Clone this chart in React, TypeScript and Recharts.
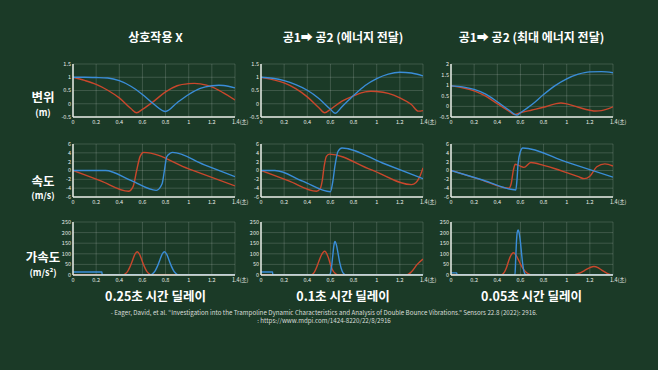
import React from "react";
import { CartesianGrid, Line, LineChart, XAxis, YAxis } from "recharts";

// axes
const X_TICKS = [0, 0.2, 0.4, 0.6, 0.8, 1, 1.2, 1.4];
const DISP_TICKS = [-0.5, 0, 0.5, 1, 1.5];
const DISP_TICKS_MAX = [-0.5, 0, 0.5, 1, 1.5, 2];
const VEL_TICKS = [-6, -4, -2, 0, 2, 4, 6];
const ACC_TICKS = [0, 50, 100, 150, 200, 250];

const COL_TITLES = ["상호작용 X", "공1➡ 공2 (에너지 전달)", "공1➡ 공2 (최대 에너지 전달)"];
const COL_FOOTERS = ["0.25초 시간 딜레이", "0.1초 시간 딜레이", "0.05초 시간 딜레이"];
const ROW_LABELS = ["변위", "속도", "가속도"];
const ROW_UNITS = ["(m)", "(m/s)", "(m/s²)"];
const CITE_1 =
  "- Eager, David, et al. \u201cInvestigation into the Trampoline Dynamic Characteristics and Analysis of Double Bounce Vibrations.\u201d Sensors 22.8 (2022): 2916.";
const CITE_2 = ": https://www.mdpi.com/1424-8220/22/8/2916";

// displacement (m)
const d1BlueT = [0, 0.1, 0.2, 0.3, 0.4, 0.5, 0.6, 0.7, 0.8, 0.9, 1.0, 1.1, 1.2, 1.26, 1.3, 1.4];
const d1BlueV = [1, 1, 0.99, 0.97, 0.87, 0.66, 0.35, -0.02, -0.29, 0.04, 0.35, 0.58, 0.68, 0.7, 0.69, 0.6];
const d1RedT = [0, 0.1, 0.2, 0.3, 0.4, 0.5, 0.55, 0.6, 0.7, 0.8, 0.9, 1.0, 1.05, 1.1, 1.2, 1.3, 1.4];
const d1RedV = [1, 0.88, 0.73, 0.51, 0.22, -0.18, -0.34, -0.21, 0.1, 0.45, 0.68, 0.76, 0.77, 0.75, 0.64, 0.41, 0.14];

const d2BlueT = [0, 0.1, 0.2, 0.3, 0.4, 0.5, 0.6, 0.64, 0.7, 0.8, 0.9, 1.0, 1.1, 1.2, 1.3, 1.4];
const d2BlueV = [1, 0.96, 0.87, 0.72, 0.51, 0.2, -0.21, -0.36, -0.11, 0.31, 0.69, 0.95, 1.12, 1.19, 1.16, 1.05];
const d2RedT = [0, 0.1, 0.2, 0.3, 0.4, 0.5, 0.55, 0.6, 0.7, 0.8, 0.9, 0.95, 1.0, 1.1, 1.2, 1.3, 1.36, 1.4];
const d2RedV = [1, 0.91, 0.79, 0.57, 0.26, -0.15, -0.34, -0.21, 0.1, 0.3, 0.45, 0.47, 0.46, 0.39, 0.22, -0.03, -0.28, -0.26];

const d3BlueT = [0, 0.1, 0.2, 0.3, 0.4, 0.5, 0.57, 0.6, 0.7, 0.8, 0.9, 1.0, 1.1, 1.2, 1.3, 1.4];
const d3BlueV = [0.97, 0.92, 0.8, 0.58, 0.22, -0.17, -0.41, -0.3, 0.09, 0.56, 0.98, 1.3, 1.52, 1.63, 1.64, 1.59];
const d3RedT = [0, 0.1, 0.2, 0.3, 0.4, 0.5, 0.55, 0.6, 0.7, 0.8, 0.9, 0.95, 1.0, 1.1, 1.2, 1.25, 1.3, 1.4];
const d3RedV = [0.97, 0.88, 0.73, 0.48, 0.13, -0.22, -0.38, -0.3, -0.17, -0.04, 0.12, 0.16, 0.12, -0.04, -0.18, -0.22, -0.2, -0.02];

// velocity (m/s)
const v1BlueT = [0, 0.28, 0.5, 0.72, 0.77, 0.79, 0.81, 0.84, 0.86, 1.13, 1.4];
const v1BlueV = [0, 0, -2.25, -4.5, -3, 0, 3.1, 3.9, 4.1, 1.35, -1.4];
const v1RedT = [0, 0.24, 0.48, 0.52, 0.55, 0.58, 0.61, 1.0, 1.4];
const v1RedV = [0, -2.35, -4.7, -3.6, 0, 3.2, 4.1, 0.35, -3.5];

const v2BlueT = [0, 0.12, 0.36, 0.6, 0.62, 0.64, 0.665, 0.7, 1.05, 1.4];
const v2BlueV = [0, 0, -2.4, -4.8, -2.6, 1.2, 4.3, 5.1, 1.7, -1.85];
const v2RedT = [0, 0.24, 0.48, 0.51, 0.53, 0.545, 0.565, 0.59, 0.95, 1.3, 1.34, 1.37, 1.4];
const v2RedV = [0, -2.35, -4.7, -4.2, -2.2, 0.8, 3.2, 3.7, 0.2, -3.2, -2.7, -1.5, 0.6];

const v3BlueT = [0, 0.28, 0.56, 0.57, 0.58, 0.6, 0.62, 1.0, 1.4];
const v3BlueV = [0, -2.2, -4.4, -2.2, 1.6, 4.3, 5.1, 1.9, -1.5];
const v3RedT = [0, 0.25, 0.5, 0.52, 0.54, 0.555, 0.58, 0.63, 0.69, 0.8, 0.9, 1.0, 1.1, 1.15, 1.2, 1.26, 1.33, 1.4];
const v3RedV = [0, -2, -4.0, -3.0, 0.2, 1.4, 1.2, 0.7, 1.8, 1.15, 0.4, -0.5, -1.4, -1.85, -1.3, 0.85, 1.5, 1.0];

// acceleration (m/s²)
const a1BlueT = [0, 0.25, 0.252, 0.67, 0.69, 0.71, 0.73, 0.75, 0.77, 0.79, 0.81, 0.83, 0.85, 0.87, 0.89, 0.91, 1.4];
const a1BlueV = [14, 14, 0, 0, 7, 20, 42, 70, 98, 110, 98, 70, 42, 20, 7, 0, 0];
const a1RedT = [0, 0.43, 0.455, 0.475, 0.495, 0.515, 0.535, 0.555, 0.575, 0.595, 0.615, 0.635, 0.655, 0.68, 1.4];
const a1RedV = [0, 0, 7, 20, 42, 70, 98, 110, 98, 70, 42, 20, 7, 0, 0];

const a2BlueT = [0, 0.1, 0.102, 0.59, 0.6, 0.61, 0.62, 0.63, 0.64, 0.65, 0.66, 0.68, 0.7, 0.72, 0.73, 1.4];
const a2BlueV = [14, 14, 0, 0, 8, 40, 90, 140, 158, 145, 120, 60, 20, 3, 0, 0];
const a2RedT = [0, 0.43, 0.46, 0.48, 0.5, 0.52, 0.55, 0.58, 0.6, 0.62, 0.64, 0.67, 1.26, 1.3, 1.35, 1.4];
const a2RedV = [0, 0, 12, 35, 65, 92, 112, 85, 50, 22, 8, 0, 0, 15, 50, 75];

const a3BlueT = [0, 0.05, 0.052, 0.553, 0.558, 0.565, 0.572, 0.58, 0.59, 0.6, 0.61, 0.62, 0.63, 0.64, 0.65, 1.4];
const a3BlueV = [10, 10, 0, 0, 60, 150, 200, 212, 195, 155, 100, 50, 18, 4, 0, 0];
const a3RedT = [0, 0.43, 0.46, 0.48, 0.5, 0.52, 0.54, 0.56, 0.58, 0.6, 0.62, 0.64, 0.67, 0.7, 1.05, 1.1, 1.15, 1.2, 1.235, 1.27, 1.3, 1.35, 1.38, 1.4];
const a3RedV = [0, 0, 12, 35, 70, 95, 105, 95, 75, 52, 32, 18, 5, 0, 0, 7, 20, 35, 40, 35, 24, 8, 2, 0];

const BG = "#1b3a27";
const BLUE = "#3a8dd8";
const RED = "#c9472c";
const TICK = "#e6ebe6";
const FONT = "'Noto Sans CJK KR', 'Noto Sans', sans-serif";

const zip = (t: number[], v: number[]) => t.map((x, i) => ({ t: x, v: v[i] }));

const COL_LEFT = [53, 241, 431];
const ROW_TOP = [59, 139, 217];
const COL_CENTER = [155.5, 343, 531.5];

function XTick(props: any) {
  const { x, y, payload } = props;
  const last = payload.value === 1.4;
  return (
    <text
      x={last ? x - 3 : x}
      y={y}
      dy="0.71em"
      textAnchor={last ? "start" : "middle"}
      fontSize={5.5}
      fill={TICK}
    >
      {last ? "1.4(초)" : String(payload.value)}
    </text>
  );
}

function Panel({
  left,
  top,
  domain,
  ticks,
  blue,
  red,
}: {
  left: number;
  top: number;
  domain: [number, number];
  ticks: number[];
  blue: { t: number; v: number }[];
  red: { t: number; v: number }[];
}) {
  return (
    <div style={{ position: "absolute", left, top }}>
      <LineChart width={207} height={73} margin={{ top: 5, right: 25, bottom: 0, left: 0 }}>
        <CartesianGrid stroke="rgba(255,255,255,0.2)" strokeWidth={0.8} />
        <XAxis
          dataKey="t"
          type="number"
          domain={[0, 1.4]}
          ticks={X_TICKS}
          interval={0}
          height={15}
          tickLine={false}
          tickSize={2}
          tickMargin={1}
          axisLine={{ stroke: TICK, strokeWidth: 1.5 }}
          tick={<XTick />}
          allowDataOverflow
        />
        <YAxis
          type="number"
          domain={domain}
          ticks={ticks}
          interval={0}
          width={20}
          tickLine={false}
          tickSize={2}
          tickMargin={0}
          axisLine={{ stroke: TICK, strokeWidth: 1.5 }}
          tick={{ fontSize: 5.5, fill: TICK }}
          allowDataOverflow
        />
        <Line data={red} dataKey="v" type="monotone" stroke={RED} strokeWidth={1.4} dot={false} isAnimationActive={false} />
        <Line data={blue} dataKey="v" type="monotone" stroke={BLUE} strokeWidth={1.4} dot={false} isAnimationActive={false} />
      </LineChart>
    </div>
  );
}

export default function App() {
  const rows = [
    [
      { ticks: DISP_TICKS, domain: [-0.5, 1.5] as [number, number], blue: zip(d1BlueT, d1BlueV), red: zip(d1RedT, d1RedV) },
      { ticks: DISP_TICKS, domain: [-0.5, 1.5] as [number, number], blue: zip(d2BlueT, d2BlueV), red: zip(d2RedT, d2RedV) },
      { ticks: DISP_TICKS_MAX, domain: [-0.5, 2] as [number, number], blue: zip(d3BlueT, d3BlueV), red: zip(d3RedT, d3RedV) },
    ],
    [
      { ticks: VEL_TICKS, domain: [-6, 6] as [number, number], blue: zip(v1BlueT, v1BlueV), red: zip(v1RedT, v1RedV) },
      { ticks: VEL_TICKS, domain: [-6, 6] as [number, number], blue: zip(v2BlueT, v2BlueV), red: zip(v2RedT, v2RedV) },
      { ticks: VEL_TICKS, domain: [-6, 6] as [number, number], blue: zip(v3BlueT, v3BlueV), red: zip(v3RedT, v3RedV) },
    ],
    [
      { ticks: ACC_TICKS, domain: [0, 250] as [number, number], blue: zip(a1BlueT, a1BlueV), red: zip(a1RedT, a1RedV) },
      { ticks: ACC_TICKS, domain: [0, 250] as [number, number], blue: zip(a2BlueT, a2BlueV), red: zip(a2RedT, a2RedV) },
      { ticks: ACC_TICKS, domain: [0, 250] as [number, number], blue: zip(a3BlueT, a3BlueV), red: zip(a3RedT, a3RedV) },
    ],
  ];

  const labelY = [97, 180.5, 257];
  const unitY = [111.5, 194.5, 272];

  const center = (x: number, y: number): React.CSSProperties => ({
    position: "absolute",
    left: x,
    top: y,
    transform: "translate(-50%, -50%)",
    whiteSpace: "nowrap",
    lineHeight: 1,
  });

  return (
    <div
      style={{
        position: "absolute",
        left: 0,
        top: 0,
        width: 658,
        height: 370,
        background: BG,
        fontFamily: FONT,
        color: "#ffffff",
        overflow: "hidden",
      }}
    >
      {COL_TITLES.map((t, i) => (
        <div key={t} style={{ ...center(COL_CENTER[i], 37), fontSize: 12, fontWeight: 700 }}>
          {t}
        </div>
      ))}

      {ROW_LABELS.map((t, i) => (
        <React.Fragment key={t}>
          <div style={{ ...center(43, labelY[i]), fontSize: 12.5, fontWeight: 700 }}>{t}</div>
          <div style={{ ...center(43, unitY[i]), fontSize: 9, fontWeight: 700 }}>{ROW_UNITS[i]}</div>
        </React.Fragment>
      ))}

      {rows.map((row, r) =>
        row.map((p, c) => (
          <Panel
            key={`${r}-${c}`}
            left={COL_LEFT[c]}
            top={ROW_TOP[r]}
            domain={p.domain}
            ticks={p.ticks}
            blue={p.blue}
            red={p.red}
          />
        )),
      )}

      {COL_FOOTERS.map((t, i) => (
        <div key={t} style={{ ...center(COL_CENTER[i], 296), fontSize: 12.5, fontWeight: 700 }}>
          {t}
        </div>
      ))}

      <div style={{ ...center(324, 312.5), fontSize: 6.2, color: "#d8ddd8" }}>{CITE_1}</div>
      <div style={{ ...center(324, 320.5), fontSize: 6.2, color: "#d8ddd8" }}>{CITE_2}</div>
    </div>
  );
}
